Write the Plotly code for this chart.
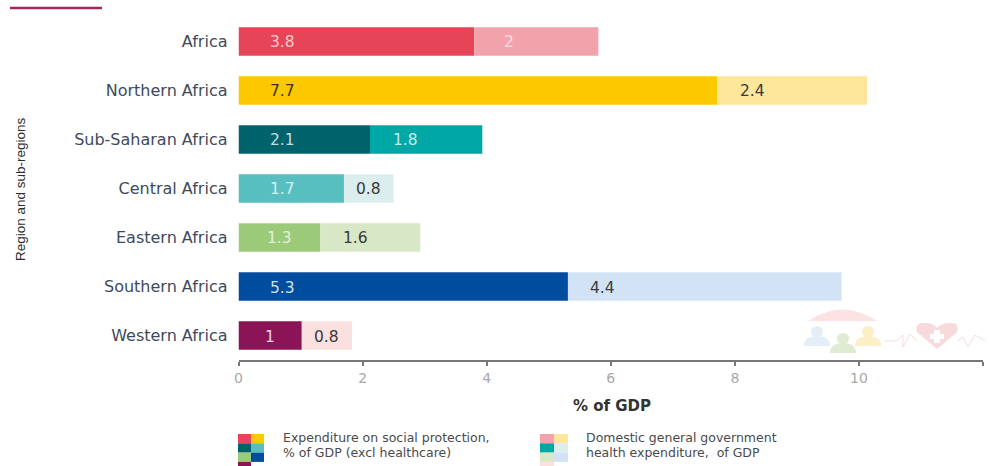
import plotly.graph_objects as go

regions = ["Africa", "Northern Africa", "Sub-Saharan Africa", "Central Africa",
           "Eastern Africa", "Southern Africa", "Western Africa"]
social = [3.8, 7.72, 2.12, 1.7, 1.32, 5.31, 1.02]
health = [2.0, 2.41, 1.81, 0.8, 1.61, 4.41, 0.81]
social_labels = ["3.8", "7.7", "2.1", "1.7", "1.3", "5.3", "1"]
health_labels = ["2", "2.4", "1.8", "0.8", "1.6", "4.4", "0.8"]
social_colors = ["#E64558", "#FCC800", "#00636B", "#57BFBF", "#9BCB78", "#004C9E", "#8A1456"]
health_colors = ["#F2A2AB", "#FEE69B", "#00A8A5", "#DCEDEE", "#D8E8C6", "#D2E3F5", "#FBE0E0"]
social_text = ["#F8C9CE", "#3a3320", "#C5DEDF", "#D5F0F0", "#E3F0D8", "#CFE0F2", "#F0D5E3"]
health_text = ["#F8DDE0", "#3a3a3a", "#C5ECEA", "#3a3a3a", "#3a3a3a", "#3a3a3a", "#3a3a3a"]
legend_social = ["Expenditure on social protection,", "% of GDP (excl healthcare)"]
legend_health = ["Domestic general government", "health expenditure,  of GDP"]

W, H = 989, 466
FONT = "DejaVu Sans, sans-serif"
X0, X1 = 238.5, 983.0
Y0, Y1 = 17.0, 360.0


def px(x):
    return x / W


def py(y):
    return 1 - y / H


fig = go.Figure()
fig.add_bar(y=regions, x=social, orientation="h", marker=dict(color=social_colors, line_width=0),
            name="social", showlegend=False)
fig.add_bar(y=regions, x=health, orientation="h", base=social,
            marker=dict(color=health_colors, line_width=0), name="health", showlegend=False)

ann = []
for r, s, h, sl, hl, sc, hc in zip(regions, social, health, social_labels, health_labels,
                                   social_text, health_text):
    ann.append(dict(x=0, y=r, xref="x", yref="y", text=sl, showarrow=False, xanchor="center",
                    xshift=min(s * 62 / 2, 44), yshift=-1, font=dict(size=15.5, color=sc, family=FONT)))
    ann.append(dict(x=s, y=r, xref="x", yref="y", text=hl, showarrow=False, xanchor="center",
                    xshift=min(h * 62 / 2, 35), yshift=-1, font=dict(size=15.5, color=hc, family=FONT)))

ann.append(dict(x=px(20), y=py(189), xref="paper", yref="paper", text="Region and sub-regions",
                textangle=-90, showarrow=False, xanchor="center", yanchor="middle",
                font=dict(size=13.5, color="#2b2b2b", family="Liberation Sans")))
ann.append(dict(x=px(612), y=py(406), xref="paper", yref="paper", text="<b>% of GDP</b>",
                showarrow=False, xanchor="center", yanchor="middle",
                font=dict(size=15, color="#333333", family=FONT)))
for lines, lx in ((legend_social, 281), (legend_health, 584)):
    for i, line in enumerate(lines):
        ann.append(dict(x=px(lx), y=py(437 + i * 15.5), xref="paper", yref="paper", text=line,
                        showarrow=False, xanchor="left", yanchor="middle",
                        font=dict(size=12.5, color="#4a4a4a", family=FONT)))

shapes = [dict(type="line", xref="paper", yref="paper", x0=px(10), x1=px(102), y0=py(8), y1=py(8),
               line=dict(color="#A3245F", width=2.5))]


def legend_squares(colors, left, step):
    order = [(0, 0), (1, 0), (0, 1), (1, 1), (0, 2), (1, 2), (0, 3)]
    out = []
    for c, (i, j) in zip(colors, order):
        out.append(dict(type="rect", xref="paper", yref="paper", line_width=0, fillcolor=c,
                        x0=px(left + i * step), x1=px(left + (i + 1) * step),
                        y0=py(434 + j * 9.3), y1=py(434 + (j + 1) * 9.3)))
    return out


shapes += legend_squares(social_colors, 238, 13)
shapes += legend_squares(health_colors, 540, 14)


def icon_person(cx, cy, color):
    return [
        dict(type="circle", xref="paper", yref="paper", layer="below", line_width=0, fillcolor=color,
             x0=px(cx - 6), x1=px(cx + 6), y0=py(cy - 6), y1=py(cy + 5)),
        dict(type="path", xref="paper", yref="paper", layer="below", line_width=0, fillcolor=color,
             path=(f"M {px(cx - 13)} {py(cy + 14)} Q {px(cx - 13)} {py(cy + 4)} {px(cx)} {py(cy + 4)} "
                   f"Q {px(cx + 13)} {py(cy + 4)} {px(cx + 13)} {py(cy + 14)} Z")),
    ]


shapes += icon_person(817, 332, "#E3EEF8")
shapes += icon_person(843, 339, "#DFEBD3")
shapes += icon_person(868, 332, "#FDEFC5")
shapes.append(dict(type="path", xref="paper", yref="paper", layer="below", line_width=0,
                   fillcolor="#FBE3E3",
                   path=f"M {px(808)} {py(321)} Q {px(842)} {py(298)} {px(877)} {py(321)} Z"))
shapes.append(dict(type="path", xref="paper", yref="paper", layer="below", line_width=0,
                   fillcolor="#F8DADD",
                   path=(f"M {px(937)} {py(349)} L {px(917)} {py(332)} Q {px(914)} {py(322)} {px(925)} {py(323)} "
                         f"Q {px(933)} {py(323)} {px(937)} {py(328)} Q {px(941)} {py(323)} {px(950)} {py(323)} "
                         f"Q {px(960)} {py(322)} {px(957)} {py(332)} Z")))
shapes.append(dict(type="path", xref="paper", yref="paper", layer="below", line_width=0,
                   fillcolor="#FFFFFF",
                   path=(f"M {px(934)} {py(330)} L {px(940)} {py(330)} L {px(940)} {py(334)} L {px(944)} {py(334)} "
                         f"L {px(944)} {py(339)} L {px(940)} {py(339)} L {px(940)} {py(343)} L {px(934)} {py(343)} "
                         f"L {px(934)} {py(339)} L {px(930)} {py(339)} L {px(930)} {py(334)} L {px(934)} {py(334)} Z")))
shapes.append(dict(type="path", xref="paper", yref="paper", layer="below",
                   line=dict(color="#F8DADD", width=1),
                   path=(f"M {px(884)} {py(341)} L {px(896)} {py(341)} L {px(903)} {py(335)} L {px(903)} {py(347)} "
                         f"L {px(910)} {py(334)} L {px(917)} {py(341)}")))
shapes.append(dict(type="path", xref="paper", yref="paper", layer="below",
                   line=dict(color="#F8DADD", width=1),
                   path=(f"M {px(957)} {py(341)} L {px(963)} {py(337)} L {px(968)} {py(347)} "
                         f"L {px(975)} {py(335)} L {px(985)} {py(341)}")))

fig.update_layout(
    width=W, height=H, autosize=False, margin=dict(l=0, r=0, t=0, b=0),
    paper_bgcolor="white", plot_bgcolor="rgba(0,0,0,0)", barmode="overlay", bargap=0.42,
    annotations=ann, shapes=shapes, font=dict(family=FONT),
    xaxis=dict(domain=[px(X0), px(X1)], range=[0, 12], dtick=2, ticks="outside", ticklen=4, tickwidth=1.5,
               tickcolor="#777777", showgrid=False, zeroline=False, showline=True, linecolor="#777777",
               linewidth=2, anchor="y", automargin=False, tickfont=dict(size=14, color="#a8a8a8", family=FONT)),
    yaxis=dict(domain=[py(Y1), py(Y0)], categoryorder="array", categoryarray=regions, autorange="reversed",
               showgrid=False, zeroline=False, showline=False, ticks="", ticklabelstandoff=10, automargin=False,
               tickfont=dict(size=16, color="#3D4A5C", family=FONT)),
)
fig.write_html("out.html", config=dict(displayModeBar=False),
               post_script="document.body.style.margin='0';document.documentElement.style.overflow='hidden';")
